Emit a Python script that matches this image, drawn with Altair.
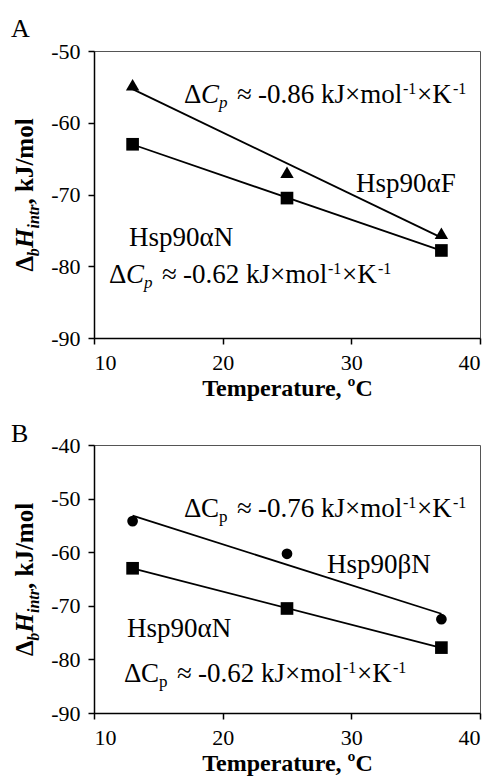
import altair as alt
import pandas as pd

SERIF = "'Liberation Serif', 'Times New Roman', Times, serif"

# ---- data ----
temps = [13, 25, 37]
hsp90aF = [-54.7, -66.9, -75.4]
hsp90aN = [-63.0, -70.5, -77.8]
hsp90bN = [-54.2, -60.3, -72.5]

x_ticks = [10, 20, 30, 40]
yA_ticks = [-90, -80, -70, -60, -50]
yB_ticks = [-90, -80, -70, -60, -50, -40]

ONE = pd.DataFrame({"k": [0]})


def txt(s, x, y, size, style="normal", weight="normal", angle=0):
    return alt.Chart(ONE).mark_text(
        text=s, font=SERIF, fontSize=size, fontStyle=style, fontWeight=weight,
        align="left", baseline="alphabetic", angle=angle, color="black"
    ).encode(x=alt.value(x), y=alt.value(y))


def dcp(x0, y0, num, italic):
    st = "italic" if italic else "normal"
    parts = [("Δ", 0, 0, 27, "normal"), ("C", 17, 0, 27, st), ("p", 35, 5, 17, st),
             ("≈", 53, 0, 27, "normal"), (num, 74, 0, 27, "normal"),
             ("kJ×mol", 137, 0, 27, "normal"), ("-1", 219, -9, 16, "normal"),
             ("×K", 233, 0, 27, "normal"), ("-1", 269, -9, 16, "normal")]
    return [txt(s, x0 + dx, y0 + dy, size, style) for s, dx, dy, size, style in parts]


def ytitle(center):
    S = center + 77
    parts = [("Δ", 0, 0, 25, "normal"), ("b", 15.3, 6, 16, "italic"),
             ("H", 23.5, 0, 25, "italic"), ("intr", 43, 6, 16, "italic"),
             (", kJ/mol", 67, 0, 25, "normal")]
    return [txt(s, -61 + sh, S - off, size, style, "bold", 270) for s, off, sh, size, style in parts]


def panel(series_list, ydom, yticks, h, texts):
    x = alt.X("T:Q", scale=alt.Scale(domain=[10, 40], nice=False, zero=False),
              axis=alt.Axis(values=x_ticks, title="Temperature, ºC", grid=False))
    y = alt.Y("H:Q", scale=alt.Scale(domain=ydom, nice=False, zero=False),
              axis=alt.Axis(values=yticks, title=None, grid=False, labelExpr="datum.value + ''"))
    layers = []
    for name, vals, shape, size in series_list:
        df = pd.DataFrame({"T": temps, "H": vals, "series": name})
        base = alt.Chart(df)
        line = base.transform_regression("T", "H").mark_line(
            color="black", strokeWidth=1.8).encode(x=x, y=y)
        pts = base.mark_point(shape=shape, filled=True, size=size, color="black",
                              opacity=1).encode(x=x, y=y)
        layers += [line, pts]
    layers += texts
    return alt.layer(*layers).properties(width=386, height=h)


textsA = (dcp(90, 51.7, "-0.86", True) + dcp(15, 232.3, "-0.62", True)
          + [txt("Hsp90αF", 262, 141, 27), txt("Hsp90αN", 35, 195, 27),
             txt("A", -83, -14, 26)] + ytitle(143.5))
textsB = (dcp(90, 71.7, "-0.76", False) + dcp(30, 236.7, "-0.62", False)
          + [txt("Hsp90βN", 233, 128, 27), txt("Hsp90αN", 33, 192, 27),
             txt("B", -83, -3.3, 26)] + ytitle(134))

A = panel([("Hsp90αF", hsp90aF, "triangle-up", 180), ("Hsp90αN", hsp90aN, "square", 160)],
          [-90, -50], yA_ticks, 287, textsA)
B = panel([("Hsp90βN", hsp90bN, "circle", 115), ("Hsp90αN", hsp90aN, "square", 160)],
          [-90, -40], yB_ticks, 268, textsB)

chart = alt.vconcat(A, B, spacing=19).properties(
    padding={"left": 10, "top": 15, "right": 0, "bottom": 0}
).configure_view(stroke="#555", strokeWidth=1).configure_axis(
    labelFont=SERIF, labelFontSize=22, labelColor="black", labelPadding=8,
    titleFont=SERIF, titleFontSize=24, titleFontWeight="bold", titleColor="black",
    titlePadding=3, domainColor="black", domainWidth=1.5, tickColor="black",
    tickWidth=1.5, tickSize=6
)

chart.save("out.html", embed_options={"renderer": "svg", "actions": False})
